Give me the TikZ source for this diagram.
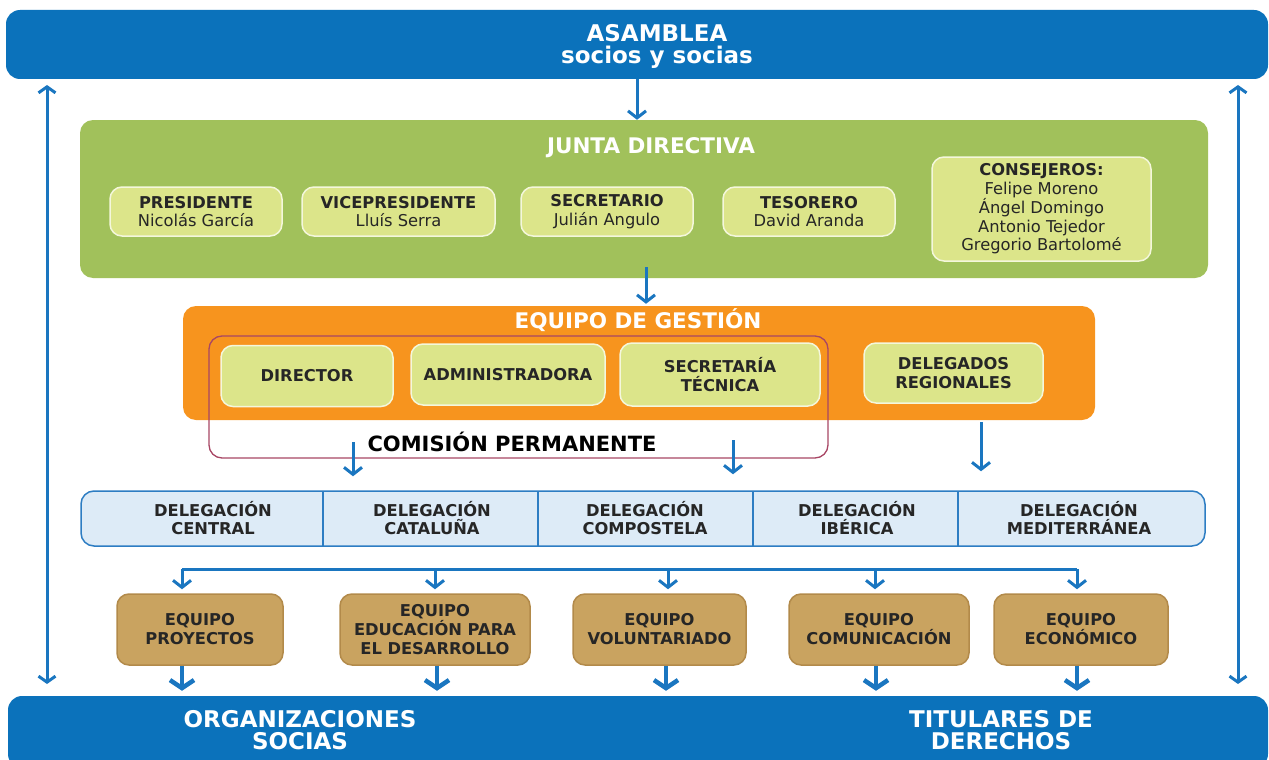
\documentclass[tikz,border=0pt]{standalone}
\usepackage{fontspec}
\setmainfont{DejaVu Sans}
\usepackage{xcolor}
\usepackage{tikz}
\usetikzlibrary{arrows.meta}

\definecolor{bannerblue}{RGB}{11,114,187}
\definecolor{arrowblue}{RGB}{26,118,192}
\definecolor{juntagreen}{RGB}{161,193,91}
\definecolor{cargogreen}{RGB}{220,229,138}
\definecolor{gestorange}{RGB}{247,148,30}
\definecolor{comisionred}{RGB}{168,70,100}
\definecolor{delegfill}{RGB}{221,235,247}
\definecolor{delegline}{RGB}{45,125,195}
\definecolor{equipotan}{RGB}{201,163,96}
\definecolor{equipoline}{RGB}{178,138,74}

\begin{document}
\begin{tikzpicture}[x=1pt,y=-1pt,>={Straight Barb[length=7pt,width=18pt]},line join=round]
  \tikzstyle{banner}=[fill=bannerblue,rounded corners=14pt,inner sep=0pt]
  \tikzstyle{bigbox}=[rounded corners=13pt,inner sep=0pt]
  \tikzstyle{cargo}=[fill=cargogreen,draw=white!70!cargogreen,line width=1.5pt,rounded corners=12pt,
                     inner sep=0pt,align=center,text=black!85,font=\fontsize{16.3}{18.5}\selectfont]
  \tikzstyle{equipo}=[fill=equipotan,draw=equipoline,line width=1.5pt,rounded corners=12pt,
                      inner sep=0pt,align=center,text=black!85,font=\fontsize{16.3}{19}\selectfont\bfseries]
  \tikzstyle{deltext}=[align=center,text=black!85,font=\fontsize{16.3}{18}\selectfont\bfseries]
  \tikzstyle{title}=[text=white,font=\fontsize{21.5}{23}\selectfont\bfseries]
  \tikzstyle{bantext}=[text=white,align=center,font=\fontsize{23}{21.5}\selectfont\bfseries]
  \tikzstyle{arr}=[->,draw=arrowblue,line width=3pt]
  \tikzstyle{bigarr}=[->,draw=arrowblue,line width=4.5pt,>={Straight Barb[length=8pt,width=24pt]}]
  \tikzstyle{sidearr}=[<->,draw=arrowblue,line width=3pt,>={Straight Barb[length=6pt,width=17pt]}]

  \useasboundingbox (0,0) rectangle (1269,760);

  % banners
  \node[banner,minimum width=1262pt,minimum height=69pt] (asamblea) at (637,44.5) {};
  \node[bantext] (asambleatxt) at (657,46.5) {ASAMBLEA\\socios y socias};
  \node[banner,minimum width=1260pt,minimum height=72pt] (bottom) at (638,732) {};
  \node[bantext] (orgtxt) at (300,730) {ORGANIZACIONES\\SOCIAS};
  \node[bantext] (tittxt) at (1001,730) {TITULARES DE\\DERECHOS};

  \draw[sidearr] (47,684) -- (47,85);
  \draw[sidearr] (1238,684) -- (1238,85);

  % junta directiva
  \node[bigbox,fill=juntagreen,minimum width=1128pt,minimum height=158pt] (junta) at (644,199) {};
  \node[title] (juntatit) at (651,148) {JUNTA DIRECTIVA};
  \node[cargo,minimum width=172pt,minimum height=49pt] (pres) at (196,211.5) {\textbf{PRESIDENTE}\\Nicolás García};
  \node[cargo,minimum width=193pt,minimum height=49pt] (vice) at (398.5,211.5) {\textbf{VICEPRESIDENTE}\\Lluís Serra};
  \node[cargo,minimum width=172pt,minimum height=49pt] (secr) at (607,211.5) {\textbf{SECRETARIO}\\Julián Angulo};
  \node[cargo,minimum width=172pt,minimum height=49pt] (teso) at (809,211.5) {\textbf{TESORERO}\\David Aranda};
  \node[cargo,minimum width=219pt,minimum height=104pt] (cons) at (1041.5,209)
    {\textbf{CONSEJEROS:}\\Felipe Moreno\\Ángel Domingo\\Antonio Tejedor\\Gregorio Bartolomé};

  \draw[arr] (637,0 |- asamblea.south) -- (637,0 |- junta.north);

  % equipo de gestion
  \node[bigbox,fill=gestorange,minimum width=912pt,minimum height=114pt] (gestion) at (639,363) {};
  \node[title] (gestit) at (638,320) {EQUIPO DE GESTIÓN};
  \node[bigbox,draw=comisionred,line width=1.3pt,minimum width=619pt,minimum height=122pt] (comision) at (518.5,397) {};
  \node[text=black,font=\fontsize{21}{22}\selectfont\bfseries] (comtxt) at (512,442) {COMISIÓN PERMANENTE};
  \node[cargo,font=\fontsize{16.3}{18.5}\selectfont\bfseries,minimum width=172pt,minimum height=61pt] (dir) at (307,376) {DIRECTOR};
  \node[cargo,font=\fontsize{16.3}{18.5}\selectfont\bfseries,minimum width=194pt,minimum height=61pt] (adm) at (508,374.5) {ADMINISTRADORA};
  \node[cargo,font=\fontsize{16.3}{18.5}\selectfont\bfseries,minimum width=200pt,minimum height=63pt] (sectec) at (720,374.5) {SECRETARÍA\\TÉCNICA};
  \node[cargo,font=\fontsize{16.3}{18.5}\selectfont\bfseries,minimum width=179pt,minimum height=60pt] (delreg) at (953.5,373) {DELEGADOS\\REGIONALES};

  \coordinate (j1) at (646,267);
  \draw[arr,shorten >=2pt] (j1) -- (j1 |- gestion.north);

  % delegaciones
  \node[bigbox,fill=delegfill,draw=delegline,line width=1.5pt,minimum width=1124pt,minimum height=55pt] (deleg) at (643,518.5) {};
  \foreach \x in {323,538,753,958}
    \draw[delegline,line width=2pt] (\x,491) -- (\x,546);
  \node[deltext] (d1) at (213,518) {DELEGACIÓN\\CENTRAL};
  \node[deltext] (d2) at (432,518) {DELEGACIÓN\\CATALUÑA};
  \node[deltext] (d3) at (645,518) {DELEGACIÓN\\COMPOSTELA};
  \node[deltext] (d4) at (857,518) {DELEGACIÓN\\IBÉRICA};
  \node[deltext] (d5) at (1079,518) {DELEGACIÓN\\MEDITERRÁNEA};

  \coordinate (c1) at (353,442);
  \coordinate (c2) at (733,440);
  \coordinate (c3) at (981,422);
  \draw[arr,shorten >=14pt] (c1) -- (c1 |- deleg.north);
  \draw[arr,shorten >=16pt] (c2) -- (c2 |- deleg.north);
  \draw[arr,shorten >=19pt] (c3) -- (c3 |- deleg.north);

  % equipos
  \node[equipo,minimum width=166pt,minimum height=71pt] (e1) at (200,629.5) {EQUIPO\\PROYECTOS};
  \node[equipo,minimum width=190pt,minimum height=71pt] (e2) at (435,629.5) {EQUIPO\\EDUCACIÓN PARA\\EL DESARROLLO};
  \node[equipo,minimum width=173pt,minimum height=71pt] (e3) at (659.5,629.5) {EQUIPO\\VOLUNTARIADO};
  \node[equipo,minimum width=180pt,minimum height=71pt] (e4) at (879,629.5) {EQUIPO\\COMUNICACIÓN};
  \node[equipo,minimum width=174pt,minimum height=71pt] (e5) at (1081,629.5) {EQUIPO\\ECONÓMICO};

  \coordinate (bus) at (0,569);
  \draw[arrowblue,line width=3pt] (182,0 |- bus) -- (1077,0 |- bus);
  \foreach \x/\n in {182/e1,435/e2,668/e3,875/e4,1077/e5}
    \draw[arr,shorten >=4pt] (\x,0 |- bus) -- (\x,0 |- \n.north);
  \foreach \x/\n in {182/e1,437/e2,666/e3,876/e4,1077/e5}
    \draw[bigarr,shorten >=5pt] (\x,0 |- \n.south) -- (\x,0 |- bottom.north);

\end{tikzpicture}
\end{document}
